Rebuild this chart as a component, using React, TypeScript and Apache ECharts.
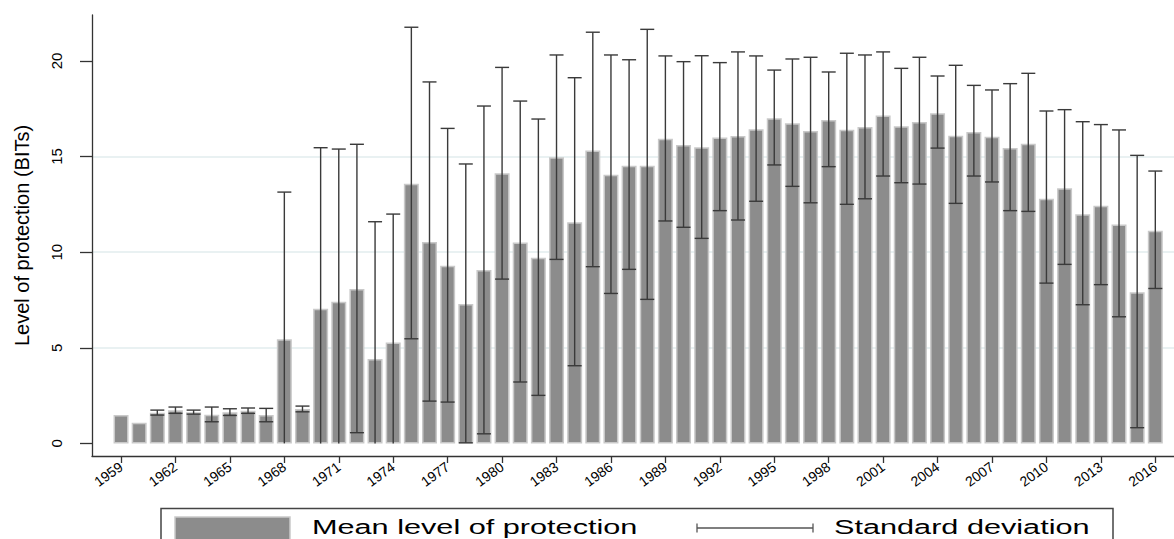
import React, { useEffect, useRef } from "react";
import * as echarts from "echarts";

const years = [
  1959, 1960, 1961, 1962, 1963, 1964, 1965, 1966, 1967, 1968,
  1969, 1970, 1971, 1972, 1973, 1974, 1975, 1976, 1977, 1978,
  1979, 1980, 1981, 1982, 1983, 1984, 1985, 1986, 1987, 1988,
  1989, 1990, 1991, 1992, 1993, 1994, 1995, 1996, 1997, 1998,
  1999, 2000, 2001, 2002, 2003, 2004, 2005, 2006, 2007, 2008,
  2009, 2010, 2011, 2012, 2013, 2014, 2015, 2016,
];

const meanLevel = [
  1.48, 1.08, 1.6, 1.73, 1.63, 1.5, 1.63, 1.7, 1.48, 5.44,
  1.8, 7.04, 7.41, 8.07, 4.41, 5.28, 13.58, 10.53, 9.29, 7.29,
  9.06, 14.12, 10.51, 9.71, 14.96, 11.56, 15.32, 14.05, 14.52, 14.52,
  15.93, 15.6, 15.48, 16.0, 16.07, 16.42, 17.0, 16.74, 16.33, 16.91,
  16.4, 16.54, 17.15, 16.58, 16.8, 17.26, 16.09, 16.28, 16.04, 15.44,
  15.67, 12.79, 13.34, 11.98, 12.43, 11.45, 7.9, 11.12,
];

const sdHigh = [
  null, null, 1.74, 1.9, 1.74, 1.9, 1.81, 1.85, 1.83, 13.14,
  1.95, 15.46, 15.39, 15.64, 11.59, 11.99, 21.76, 18.9, 16.47, 14.61,
  17.64, 19.66, 17.9, 16.96, 20.31, 19.12, 21.5, 20.31, 20.06, 21.65,
  20.26, 19.96, 20.27, 19.91, 20.47, 20.26, 19.52, 20.1, 20.19, 19.42,
  20.4, 20.31, 20.47, 19.61, 20.19, 19.21, 19.77, 18.72, 18.48, 18.81,
  19.35, 17.38, 17.45, 16.82, 16.67, 16.39, 15.06, 14.24,
];

const sdLow = [
  null, null, 1.48, 1.57, 1.53, 1.13, 1.46, 1.57, 1.13, 0,
  1.65, 0, 0, 0.56, 0, 0, 5.47, 2.21, 2.16, 0.03,
  0.5, 8.59, 3.21, 2.51, 9.62, 4.06, 9.24, 7.84, 9.1, 7.53,
  11.63, 11.3, 10.72, 12.17, 11.68, 12.66, 14.56, 13.44, 12.58, 14.47,
  12.5, 12.79, 13.98, 13.63, 13.56, 15.44, 12.55, 13.98, 13.67, 12.17,
  12.13, 8.38, 9.36, 7.25, 8.3, 6.62, 0.82, 8.1,
];

const yearTicks = [
  1959, 1962, 1965, 1968, 1971, 1974, 1977, 1980, 1983, 1986,
  1989, 1992, 1995, 1998, 2001, 2004, 2007, 2010, 2013, 2016,
];
const valueTicks = [0, 5, 10, 15, 20];

const yTitle = "Level of protection (BITs)";
const legendMean = "Mean level of protection";
const legendSd = "Standard deviation";

const FONT = "'Liberation Sans', Arial, sans-serif";

export default function App() {
  const ref = useRef<HTMLDivElement>(null);

  useEffect(() => {
    document.body.style.margin = "0";
    const chart = echarts.init(ref.current!, null, { renderer: "svg" });

    const barData = years.map((y, i) => [y, meanLevel[i]]);
    const errData = years
      .map((y, i) => [y, sdLow[i], sdHigh[i]])
      .filter((d) => d[1] !== null && d[2] !== null);

    const option: any = {
      animation: false,
      textStyle: { fontFamily: FONT, color: "#000" },
      grid: {
        left: 92,
        right: 0,
        top: 15,
        bottom: 83,
        containLabel: false,
        outerBoundsMode: "none",
      },
      xAxis: {
        type: "value",
        min: 1957.4,
        max: 2017.03,
        axisLine: { show: true, onZero: false, lineStyle: { color: "#333", width: 1.3 } },
        axisTick: {
          show: true,
          customValues: yearTicks,
          length: 7,
          lineStyle: { color: "#333", width: 1.3 },
        },
        axisLabel: {
          customValues: yearTicks,
          rotate: 36,
          fontSize: 14,
          color: "#000",
          margin: 9,
          fontFamily: FONT,
          formatter: (v: number) => String(v),
        },
        splitLine: { show: false },
      },
      yAxis: {
        type: "value",
        min: -0.66,
        max: 22.4,
        name: yTitle,
        nameLocation: "middle",
        nameRotate: 90,
        nameGap: 60,
        nameTextStyle: { fontSize: 20, color: "#000", fontFamily: FONT },
        axisLine: { show: true, onZero: false, lineStyle: { color: "#333", width: 1.3 } },
        axisTick: {
          show: true,
          customValues: valueTicks,
          length: 12,
          lineStyle: { color: "#333", width: 1.3 },
        },
        axisLabel: {
          customValues: valueTicks,
          rotate: 90,
          fontSize: 15,
          color: "#000",
          margin: 28,
          fontFamily: FONT,
        },
        splitLine: {
          show: true,
          showMinLine: false,
          showMaxLine: false,
          lineStyle: { color: "#e2ecee", width: 1.5 },
        },
      },
      series: [
        {
          type: "bar",
          data: barData,
          barWidth: 15,
          z: 2,
          itemStyle: {
            color: "#8c8c8c",
            borderColor: "#c9c9c9",
            borderWidth: 1.5,
          },
        },
        {
          type: "custom",
          data: errData,
          z: 3,
          encode: { x: 0, y: [1, 2] },
          renderItem: (params: any, api: any) => {
            const x = api.value(0);
            const lo = api.value(1);
            const hi = api.value(2);
            const pHi = api.coord([x, hi]);
            const pLo = api.coord([x, lo]);
            const half = 7;
            const style = { stroke: "#3a3a3a", lineWidth: 1.4 };
            const children: any[] = [
              { type: "line", shape: { x1: pHi[0], y1: pHi[1], x2: pLo[0], y2: pLo[1] }, style },
              { type: "line", shape: { x1: pHi[0] - half, y1: pHi[1], x2: pHi[0] + half, y2: pHi[1] }, style },
            ];
            if (lo > 0) {
              children.push({
                type: "line",
                shape: { x1: pLo[0] - half, y1: pLo[1], x2: pLo[0] + half, y2: pLo[1] },
                style,
              });
            }
            return { type: "group", children };
          },
        },
      ],
      graphic: [
        {
          type: "rect",
          shape: { x: 161, y: 508.5, width: 952, height: 60 },
          style: { fill: "#fff", stroke: "#444", lineWidth: 1.5 },
          z: 10,
        },
        {
          type: "rect",
          shape: { x: 175, y: 517, width: 115, height: 26 },
          style: { fill: "#8c8c8c", stroke: "#c9c9c9", lineWidth: 1.5 },
          z: 11,
        },
        {
          type: "text",
          x: 312,
          y: 527,
          scaleX: 1.46,
          style: {
            text: legendMean,
            fontSize: 21,
            fontFamily: FONT,
            fill: "#000",
            verticalAlign: "middle",
            align: "left",
          },
          z: 11,
        },
        {
          type: "line",
          shape: { x1: 697, y1: 528, x2: 813, y2: 528 },
          style: { stroke: "#555", lineWidth: 1.3 },
          z: 11,
        },
        {
          type: "line",
          shape: { x1: 697, y1: 523.5, x2: 697, y2: 532.5 },
          style: { stroke: "#555", lineWidth: 1.3 },
          z: 11,
        },
        {
          type: "line",
          shape: { x1: 813, y1: 523.5, x2: 813, y2: 532.5 },
          style: { stroke: "#555", lineWidth: 1.3 },
          z: 11,
        },
        {
          type: "text",
          x: 834,
          y: 527,
          scaleX: 1.46,
          style: {
            text: legendSd,
            fontSize: 21,
            fontFamily: FONT,
            fill: "#000",
            verticalAlign: "middle",
            align: "left",
          },
          z: 11,
        },
      ],
    };

    chart.setOption(option);
    return () => chart.dispose();
  }, []);

  return <div ref={ref} style={{ width: 1174, height: 539 }} />;
}
